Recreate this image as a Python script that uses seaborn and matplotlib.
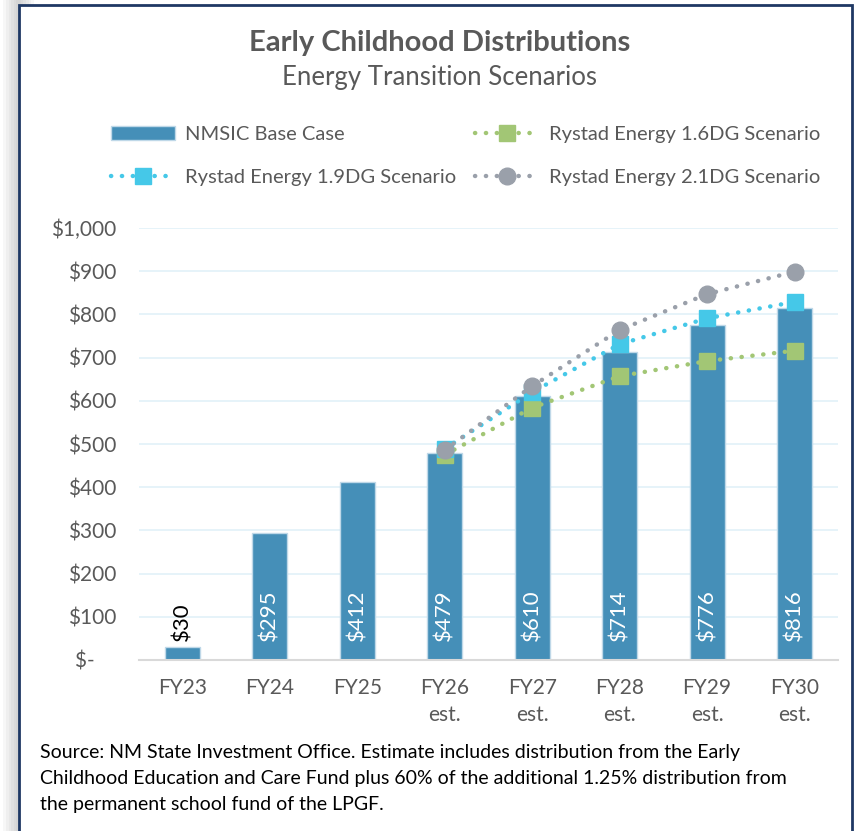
import numpy as np
import pandas as pd
import matplotlib
matplotlib.use("Agg")
import matplotlib.pyplot as plt
from matplotlib.patches import Rectangle
from matplotlib.ticker import FuncFormatter
import seaborn as sns

years = ['FY23', 'FY24', 'FY25', 'FY26\nest.', 'FY27\nest.', 'FY28\nest.', 'FY29\nest.', 'FY30\nest.']
base_case = [30, 295, 412, 479, 610, 714, 776, 816]
dg16 = [np.nan, np.nan, np.nan, 475, 584, 657, 692, 716]
dg19 = [np.nan, np.nan, np.nan, 489, 620, 731, 791, 829]
dg21 = [np.nan, np.nan, np.nan, 486, 634, 764, 847, 899]

grey_txt = '#595959'
sns.set_style('white')
plt.rcParams['font.family'] = ['Lato', 'DejaVu Sans']

fig = plt.figure(figsize=(8.66, 8.31), dpi=100)
ax = fig.add_axes([0.160, 0.2058, 0.808, 0.5198])

df = pd.DataFrame({'year': years, 'pos': range(len(years)), 'base': base_case,
                   'dg16': dg16, 'dg19': dg19, 'dg21': dg21})

sns.barplot(data=df, x='pos', y='base', color='#458FB8', width=0.4, saturation=1,
            edgecolor='#BFD8E8', linewidth=1, ax=ax, label='NMSIC Base Case', native_scale=True)

styles = [('dg16', 'Rystad Energy 1.6DG Scenario', '#A2C675', 's'),
          ('dg19', 'Rystad Energy 1.9DG Scenario', '#45C8E8', 's'),
          ('dg21', 'Rystad Energy 2.1DG Scenario', '#9AA0AA', 'o')]
for col, lab, c, m in styles:
    sns.lineplot(data=df, x='pos', y=col, color=c, ax=ax, label=lab,
                 linestyle=(0, (0.05, 2.4)), linewidth=3.2, dash_capstyle='round',
                 marker=m, markersize=12, markeredgecolor=c, markeredgewidth=1)

for i, v in enumerate(base_case):
    ax.text(i, 45, f'${v}', rotation=90, ha='center', va='bottom',
            color='black' if i == 0 else 'white', fontsize=16)

ax.set_xlim(-0.5, 7.5)
ax.set_ylim(0, 1000)
ax.set_yticks(range(0, 1001, 100))
ax.yaxis.set_major_formatter(FuncFormatter(lambda v, p: '$-    ' if v == 0 else f'${v:,.0f}'))
ax.set_xticks(range(len(years)))
ax.set_xticklabels(years, linespacing=1.45, va='top')
ax.tick_params(axis='both', colors=grey_txt, labelsize=15, length=0)
ax.tick_params(axis='x', pad=13)
ax.tick_params(axis='y', pad=16)
ax.set_xlabel('')
ax.set_ylabel('')
ax.grid(axis='y', color='#E4F2F9', linewidth=1.3)
ax.set_axisbelow(True)
for s in ['top', 'right', 'left']:
    ax.spines[s].set_visible(False)
ax.spines['bottom'].set_color('#D9D9D9')
ax.spines['bottom'].set_linewidth(1.5)

h, l = ax.get_legend_handles_labels()
ax.get_legend().remove()
lookup = dict(zip(l, h))
order = ['NMSIC Base Case', 'Rystad Energy 1.9DG Scenario',
         'Rystad Energy 1.6DG Scenario', 'Rystad Energy 2.1DG Scenario']
fig.legend([lookup[k] for k in order], order, ncol=2, frameon=False,
           loc='upper left', bbox_to_anchor=(0.128, 0.848), borderpad=0, borderaxespad=0,
           fontsize=14.5, labelcolor=grey_txt,
           handlelength=3.2, handletextpad=0.5, columnspacing=0.9, labelspacing=1.25)

fig.text(0.508, 0.948, 'Early Childhood Distributions', ha='center', va='center',
         fontsize=21, fontweight='bold', color=grey_txt)
fig.text(0.508, 0.907, 'Energy Transition Scenarios', ha='center', va='center',
         fontsize=18.5, color=grey_txt)
fig.text(0.046, 0.063, 'Source: NM State Investment Office. Estimate includes distribution from the Early\n'
         'Childhood Education and Care Fund plus 60% of the additional 1.25% distribution from\n'
         'the permanent school fund of the LPGF.', ha='left', va='center',
         fontsize=14, color='black', linespacing=1.65)

# frame and shadow
for k in range(6):
    fig.patches.append(Rectangle((0.004 + k * 0.003, -0.1), 0.02, 1.2, transform=fig.transFigure,
                                 facecolor='#9A9A9A', edgecolor='none', alpha=0.08, zorder=-2))
fig.patches.append(Rectangle((0.022, -0.05), 0.962, 1.044, transform=fig.transFigure,
                             facecolor='white', edgecolor='#1F3864', linewidth=2, zorder=-1))

fig.savefig('out.png', dpi=100)
